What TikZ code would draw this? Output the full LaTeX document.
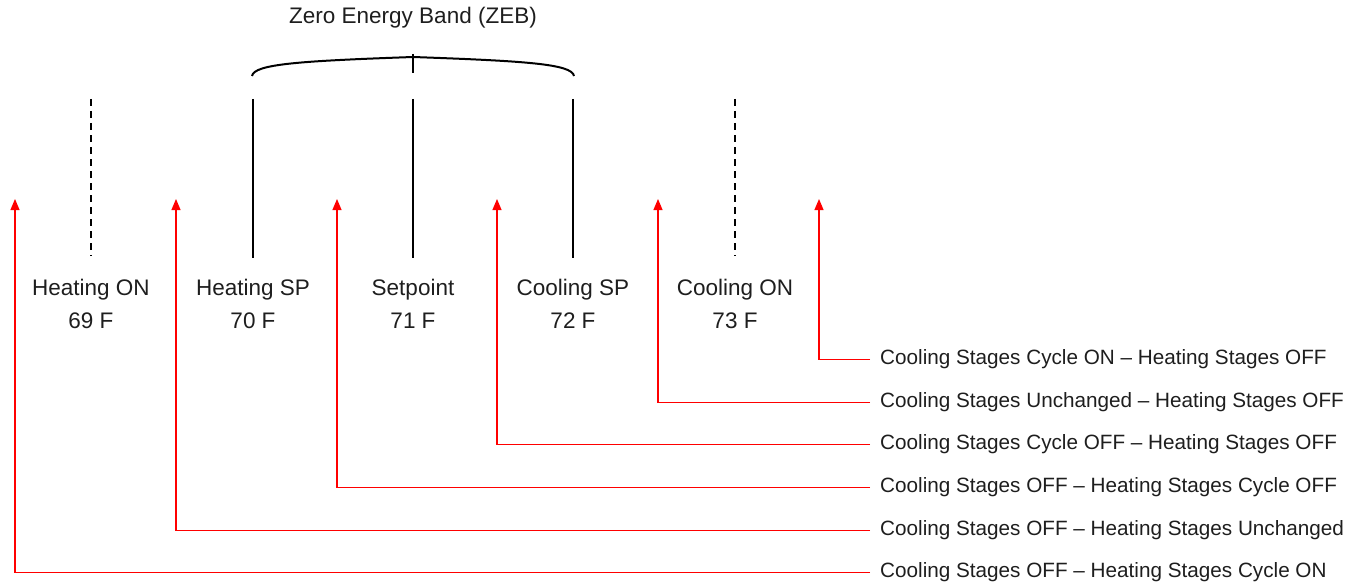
\documentclass[tikz,border=0pt]{standalone}
\usepackage{fontspec}
\setmainfont{Liberation Sans}
\usetikzlibrary{arrows.meta}
\definecolor{arrred}{RGB}{255,0,0}
\definecolor{txtgray}{RGB}{30,30,30}
\tikzset{
  toplabel/.style={font=\fontsize{22.5}{33}\selectfont, text=txtgray, align=center, inner sep=0pt},
  statelabel/.style={font=\fontsize{20.7}{24}\selectfont, text=txtgray, anchor=west, inner sep=0pt},
  solidmark/.style={draw=black, line width=1.1pt},
  dashmark/.style={draw=black, line width=1.1pt, dash pattern=on 7pt off 5pt},
  bracestyle/.style={draw=black, line width=2pt},
  redarrow/.style={draw=arrred, line width=1.1pt, -{Triangle[length=11pt,width=9pt]}}
}
\begin{document}
\begin{tikzpicture}[x=1pt,y=-1pt]
\useasboundingbox (0,0) rectangle (1356,583);
% title and brace
\node[toplabel] (zeb) at (413,18) {Zero Energy Band (ZEB)};
\draw[bracestyle] (252,76) .. controls (254,64) and (300,61) .. (413,57) .. controls (526,61) and (572,64) .. (574,76);
\draw[bracestyle] (413,54) -- (413,73);
% vertical marks
\draw[dashmark] (91,99) -- (91,256);
\draw[solidmark] (253,99) -- (253,258);
\draw[solidmark] (413,99) -- (413,258);
\draw[solidmark] (573,99) -- (573,258);
\draw[dashmark] (735,99) -- (735,256);
% temperature labels
\node[toplabel] (hon) at (91,304) {Heating ON\\69 F};
\node[toplabel] (hsp) at (253,304) {Heating SP\\70 F};
\node[toplabel] (sp) at (413,304) {Setpoint\\71 F};
\node[toplabel] (csp) at (573,304) {Cooling SP\\72 F};
\node[toplabel] (con) at (735,304) {Cooling ON\\73 F};
% state labels
\node[statelabel] (s1) at (880,359.5) {Cooling Stages Cycle ON – Heating Stages OFF};
\node[statelabel] (s2) at (880,402.5) {Cooling Stages Unchanged – Heating Stages OFF};
\node[statelabel] (s3) at (880,444.5) {Cooling Stages Cycle OFF – Heating Stages OFF};
\node[statelabel] (s4) at (880,487.5) {Cooling Stages OFF – Heating Stages Cycle OFF};
\node[statelabel] (s5) at (880,530.5) {Cooling Stages OFF – Heating Stages Unchanged};
\node[statelabel] (s6) at (880,572.5) {Cooling Stages OFF – Heating Stages Cycle ON};
% arrow tips
\coordinate (t1) at (819,199);
\coordinate (t2) at (658,199);
\coordinate (t3) at (497,199);
\coordinate (t4) at (337,199);
\coordinate (t5) at (176,199);
\coordinate (t6) at (15,199);
% connectors
\foreach \i in {1,...,6}{
  \draw[redarrow] ([xshift=-10pt]s\i.west) -| (t\i);
}
\end{tikzpicture}
\end{document}
